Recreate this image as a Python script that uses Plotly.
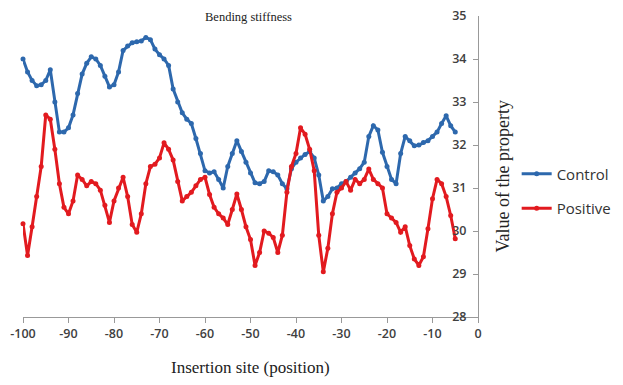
import plotly.graph_objects as go

positions = list(range(-100, -4))
control = [34.0, 33.7, 33.5, 33.38, 33.4, 33.5, 33.75, 33.0, 32.3, 32.3,
           32.4, 32.7, 33.2, 33.65, 33.9, 34.05, 34.0, 33.85, 33.6, 33.35,
           33.4, 33.7, 34.2, 34.3, 34.38, 34.4, 34.42, 34.5, 34.45, 34.23,
           34.1, 34.0, 33.85, 33.3, 33.0, 32.75, 32.6, 32.5, 32.15, 31.8,
           31.4, 31.35, 31.38, 31.2, 31.0, 31.5, 31.8, 32.1, 31.85, 31.6,
           31.35, 31.12, 31.1, 31.15, 31.4, 31.38, 31.3, 31.1, 30.98, 31.45,
           31.6, 31.7, 31.78, 31.85, 31.7, 31.3, 30.7, 30.8, 30.98, 31.0,
           31.1, 31.15, 31.25, 31.35, 31.45, 31.6, 32.2, 32.45, 32.35, 31.83,
           31.5, 31.2, 31.1, 31.8, 32.2, 32.1, 31.98, 32.0, 32.06, 32.1,
           32.2, 32.3, 32.5, 32.68, 32.45, 32.3]
positive = [30.17, 29.43, 30.1, 30.8, 31.5, 32.7, 32.6, 31.9, 31.1, 30.55,
            30.4, 30.7, 31.3, 31.2, 31.05, 31.15, 31.1, 30.95, 30.6, 30.2,
            30.7, 31.0, 31.25, 30.8, 30.15, 29.97, 30.4, 31.1, 31.5, 31.55,
            31.7, 32.05, 31.9, 31.65, 31.15, 30.7, 30.8, 30.9, 31.05, 31.2,
            31.25, 30.85, 30.55, 30.4, 30.3, 30.15, 30.5, 30.86, 30.5, 30.1,
            29.8, 29.2, 29.5, 30.0, 29.95, 29.85, 29.5, 29.9, 30.9, 31.5,
            31.8, 32.4, 32.25, 31.9, 31.4, 29.9, 29.05, 29.6, 30.4, 30.9,
            31.0, 31.15, 30.95, 31.2, 31.1, 31.2, 31.44, 31.2, 31.1, 31.0,
            30.4, 30.3, 30.2, 29.97, 30.1, 29.66, 29.35, 29.2, 29.4, 30.05,
            30.75, 31.2, 31.1, 30.8, 30.36, 29.82]
x_ticks = list(range(-100, 1, 10))
y_ticks = list(range(28, 36))

BLUE = "#2d68ad"
RED = "#e21a1f"

fig = go.Figure()
fig.add_trace(go.Scatter(x=positions, y=control, name="Control", mode="lines+markers",
                         legendgroup="c",
                         line=dict(color=BLUE, width=3), marker=dict(size=5, color=BLUE),
                         cliponaxis=False))
fig.add_trace(go.Scatter(x=positions, y=positive, name="Positive", mode="lines+markers",
                         legendgroup="p",
                         line=dict(color=RED, width=3), marker=dict(size=5, color=RED),
                         cliponaxis=False))

tickfont = dict(family="Open Sans, Liberation Sans, Arial, sans-serif", size=12.5,
                color="#404040", weight=600)
serif = "Liberation Serif, DejaVu Serif, serif"

fig.update_layout(
    width=615, height=377,
    margin=dict(l=15, r=145, t=8, b=68, autoexpand=False),
    paper_bgcolor="white", plot_bgcolor="white",
    showlegend=True,
    legend=dict(x=1.085, y=0.53, xanchor="left", yanchor="top",
                font=dict(family="Open Sans, Liberation Sans, Arial, sans-serif", size=15,
                          color="#333"),
                tracegroupgap=12, bgcolor="rgba(0,0,0,0)"),
    xaxis=dict(range=[-100, 0], tickvals=x_ticks, ticktext=[str(v) for v in x_ticks],
               showgrid=False, zeroline=False, showline=True, linecolor="#999",
               linewidth=1, ticks="outside", ticklen=5, tickcolor="#999",
               tickfont=tickfont, automargin=False),
    yaxis=dict(range=[28, 35], tickvals=y_ticks, side="right",
               ticklabelposition="inside", ticklabeloverflow="allow",
               ticklabelstandoff=6, showgrid=False, zeroline=False,
               showline=True, linecolor="#999", linewidth=1, ticks="inside",
               ticklen=5, tickcolor="#999", tickfont=tickfont, automargin=False),
    annotations=[
        dict(text="Bending stiffness", x=0.5, y=1.0, xref="paper", yref="paper",
             xanchor="center", yanchor="middle", showarrow=False, xshift=-2, yshift=-1,
             font=dict(family=serif, size=12.5, color="#222")),
        dict(text="Insertion site (position)", x=0.5, y=0, xref="paper", yref="paper",
             xanchor="center", yanchor="middle", yshift=-50, showarrow=False, xshift=0,
             font=dict(family=serif, size=17, color="#222")),
        dict(text="Value of the property", x=1.0, y=0.5, xref="paper", yref="paper",
             xanchor="center", yanchor="middle", xshift=24, yshift=-10, textangle=-90,
             showarrow=False, font=dict(family=serif, size=18, color="#222")),
    ],
)

fig.write_html("out.html")
